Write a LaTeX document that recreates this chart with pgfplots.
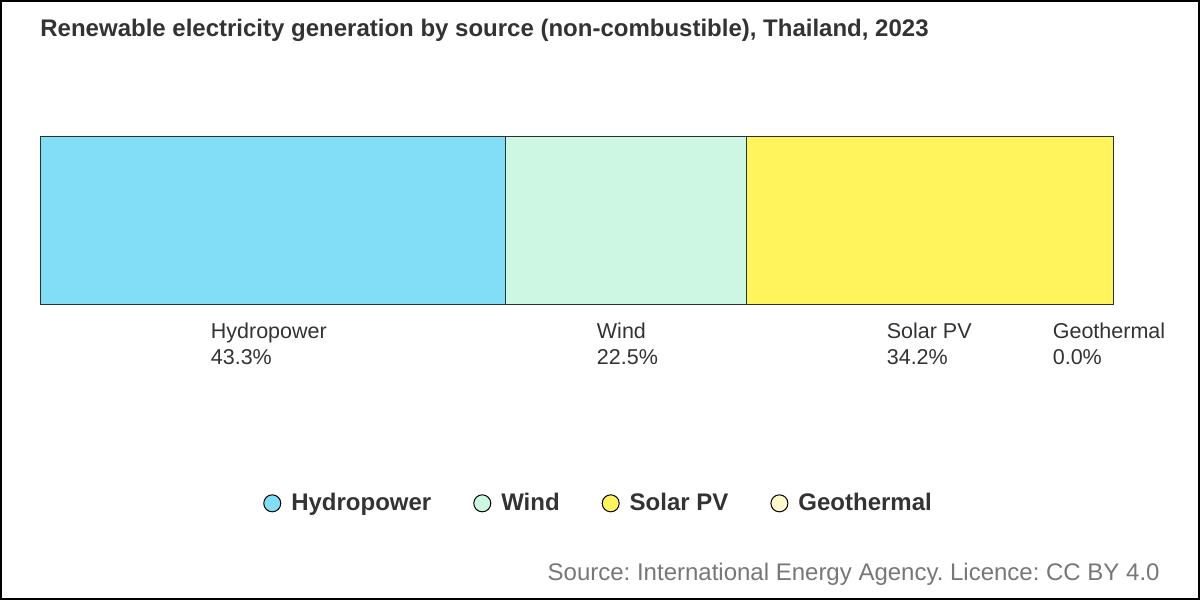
\documentclass[border=0pt]{standalone}
\usepackage{fontspec}
\setmainfont{Liberation Sans}
\usepackage{pgfplots}
\pgfplotsset{compat=1.18}
\definecolor{hydro}{RGB}{130,222,247}
\definecolor{wind}{RGB}{205,247,226}
\definecolor{solar}{RGB}{255,244,92}
\definecolor{geo}{RGB}{255,250,205}
\definecolor{txt}{RGB}{51,51,51}
\definecolor{src}{RGB}{119,119,119}
\definecolor{edge}{RGB}{40,50,50}
\pgfplotsset{circleleg/.style={legend image code/.code={\path[draw=none,fill=none] (0,0) -- (11.75pt,0);\draw[fill=#1,draw=black,line width=0.5pt] (4.25pt,0) circle (4.25pt);}}}
\begin{document}
\frenchspacing
\begin{tikzpicture}
\useasboundingbox (0,0) rectangle (600pt,300pt);
\fill[white] (0,0) rectangle (600pt,300pt);
\draw[black,line width=1pt] (0.5pt,0.5pt) rectangle (599.5pt,299.5pt);
\node[anchor=base west,inner sep=0pt,text=txt,font=\bfseries\fontsize{12}{14}\selectfont] at (20pt,281.5pt)
  {Renewable electricity generation by source (non-combustible), Thailand, 2023};
\begin{axis}[
  at={(20.25pt,148pt)}, anchor=south west,
  scale only axis, width=536.5pt, height=83.75pt,
  xmin=0, xmax=100, ymin=0, ymax=1,
  hide axis, clip=false,
  xbar stacked, bar width=83.75pt,
  legend columns=4,
  legend style={at={(0.521,-1.19)}, anchor=center, draw=none, fill=none,
    font=\bfseries\fontsize{12}{14}\selectfont, text=txt,
    /tikz/every even column/.append style={column sep=19pt}},
]
\addplot[fill=hydro, draw=edge, line width=0.5pt, circleleg=hydro] coordinates {(43.3,0.5)};
\addlegendentry{Hydropower}
\addplot[fill=wind, draw=edge, line width=0.5pt, circleleg=wind] coordinates {(22.5,0.5)};
\addlegendentry{Wind}
\addplot[fill=solar, draw=edge, line width=0.5pt, circleleg=solar] coordinates {(34.2,0.5)};
\addlegendentry{Solar PV}
\addplot[fill=geo, draw=edge, line width=0.5pt, circleleg=geo] coordinates {(0.0,0.5)};
\addlegendentry{Geothermal}
\node[anchor=north west, align=left, inner sep=0pt, text=txt, font=\fontsize{10.75}{13}\selectfont] at ([yshift=-9.5pt]axis cs:15.84,0) {Hydropower\\43.3\%};
\node[anchor=north west, align=left, inner sep=0pt, text=txt, font=\fontsize{10.75}{13}\selectfont] at ([yshift=-9.5pt]axis cs:51.82,0) {Wind\\22.5\%};
\node[anchor=north west, align=left, inner sep=0pt, text=txt, font=\fontsize{10.75}{13}\selectfont] at ([yshift=-9.5pt]axis cs:78.84,0) {Solar PV\\34.2\%};
\node[anchor=north west, align=left, inner sep=0pt, text=txt, font=\fontsize{10.75}{13}\selectfont] at ([yshift=-9.5pt]axis cs:94.31,0) {Geothermal\\0.0\%};
\end{axis}
\node[anchor=base east,inner sep=0pt,text=src,font=\fontsize{12}{14}\selectfont] at (580pt,9.5pt)
  {Source: International Energy Agency. Licence: CC BY 4.0};
\end{tikzpicture}
\end{document}
